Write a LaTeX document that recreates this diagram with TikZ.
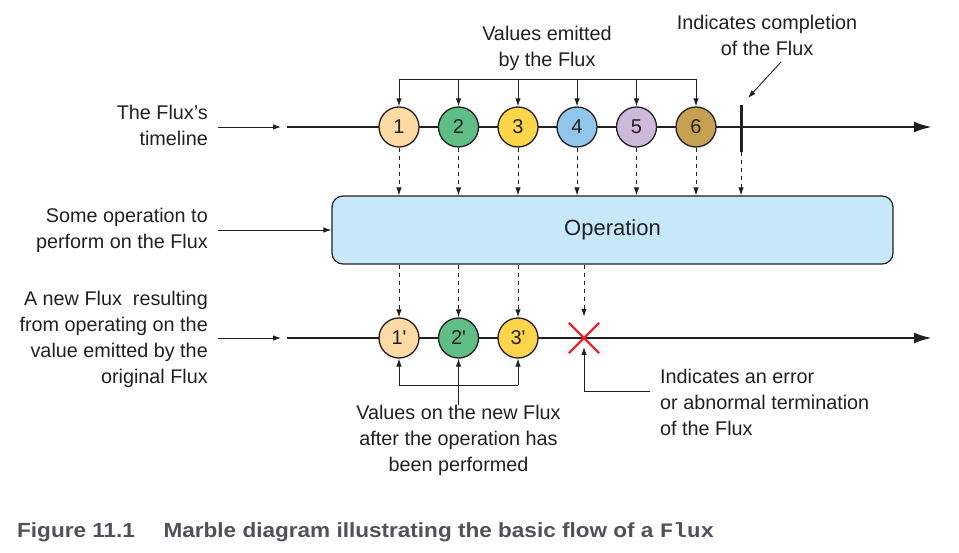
\documentclass[tikz,border=0pt]{standalone}
\usepackage{fontspec}
\usepackage{graphicx}
\setmainfont{Liberation Sans}
\setmonofont{Liberation Mono}
\newfontfamily\marblefont{Liberation Sans}[Ligatures=TeXOff]
\usetikzlibrary{arrows.meta}
\definecolor{ink}{RGB}{35,31,32}
\definecolor{m1}{HTML}{FDD9A3}
\definecolor{m2}{HTML}{5FBE85}
\definecolor{m3}{HTML}{FCD54A}
\definecolor{m4}{HTML}{92C5EA}
\definecolor{m5}{HTML}{CDB9DA}
\definecolor{m6}{HTML}{C7A152}
\definecolor{opfill}{HTML}{C6E8F8}
\definecolor{errred}{HTML}{E8262B}
\definecolor{capgray}{RGB}{80,81,90}
\begin{document}
\begin{tikzpicture}[x=1pt,y=-1pt,
  txt/.style={font=\fontsize{19.8}{26}\selectfont, inner sep=0pt, text=ink},
  marble/.style={circle, draw=ink, line width=1.3pt, minimum size=40pt, inner sep=0pt, text=ink, font=\marblefont\fontsize{20}{24}\selectfont},
  tline/.style={draw=ink, line width=2.6pt, -{Latex[length=18pt,width=11pt]}},
  sarrow/.style={draw=ink, line width=0.9pt, -{Latex[length=8pt,width=5.5pt]}},
  darrow/.style={sarrow, dash pattern=on 4pt off 4pt},
  thin/.style={draw=ink, line width=0.9pt},
  xline/.style={draw=errred, line width=2.4pt},
]
\useasboundingbox (0,0) rectangle (959,553);

% top timeline
\coordinate (tA) at (287,127);
\coordinate (tB) at (932,127);
\draw[tline] (tA) -- (tB);
\node[marble, fill=m1] (c1) at (399,127) {1};
\node[marble, fill=m2] (c2) at (458.5,127) {2};
\node[marble, fill=m3] (c3) at (518,127) {3};
\node[marble, fill=m4] (c4) at (577,127) {4};
\node[marble, fill=m5] (c5) at (636.5,127) {5};
\node[marble, fill=m6] (c6) at (696,127) {6};
\coordinate (barT) at (741,105);
\coordinate (barB) at (741,152);
\draw[draw=ink, line width=3pt] (barT) -- (barB);

% operation box
\node[draw=ink, line width=1.2pt, fill=opfill, rounded corners=11pt,
      minimum width=561pt, minimum height=68pt, text=ink,
      font=\fontsize{22}{26}\selectfont] (op) at (612.5,230) {Operation};

\foreach \i in {1,...,6} \draw[darrow] (c\i.south) -- (c\i.south |- op.north);
\draw[darrow] (barB) -- (barB |- op.north);

% bottom timeline
\coordinate (bA) at (287,338);
\coordinate (bB) at (932,338);
\draw[tline] (bA) -- (bB);
\node[marble, fill=m1] (d1) at (399,338) {1'};
\node[marble, fill=m2] (d2) at (458.5,338) {2'};
\node[marble, fill=m3] (d3) at (518,338) {3'};
\node[minimum size=30pt, inner sep=0pt] (err) at (584,338) {};
\draw[xline] (err.north west) -- (err.south east);
\draw[xline] (err.north east) -- (err.south west);

\foreach \i in {1,2,3} \draw[darrow] (op.south -| d\i) -- (d\i.north);
\draw[darrow] (op.south -| err) -- ([yshift=6pt]err.north);

% left labels
\node[txt, align=right, anchor=east] (t1) at (208,125.5) {The Flux's\\timeline};
\node[txt, align=right, anchor=east] (t2) at (208,230.5) {Some operation to\\perform on the Flux};
\node[txt, align=right, anchor=east] (t3) at (208,339.5) {A new Flux\ \ resulting\\from operating on the\\value emitted by the\\original Flux};
\draw[sarrow, shorten <=10pt] (t1.east |- tA) -- ([xshift=-6pt]tA);
\draw[sarrow, shorten <=10pt] (t2.east |- op.west) -- (op.west);
\draw[sarrow, shorten <=10pt] (t3.east |- bA) -- ([xshift=-6pt]bA);

% top bracket
\node[txt, align=center] (vt) at (547,48) {Values emitted\\by the Flux};
\coordinate (tb) at (547,79);
\draw[thin] (tb -| c1) -- (tb -| c6);
\foreach \i in {1,...,6} \draw[sarrow] (tb -| c\i) -- (c\i.north);

% completion label
\node[txt, align=center] (ct) at (767,35) {Indicates completion\\of the Flux};
\coordinate (cS) at (781,62);
\draw[sarrow] (cS) -- ([xshift=7pt,yshift=7pt]barT);

% bottom bracket
\node[txt, align=center] (vb) at (458.5,440) {Values on the new Flux\\after the operation has\\been performed};
\coordinate (bb) at (458.5,385);
\draw[thin] (bb -| d1) -- (bb -| d3);
\foreach \i in {1,2,3} \draw[sarrow] (bb -| d\i) -- (d\i.south);
\draw[thin] (vb.north) -- (bb);

% error label
\node[txt, align=left, anchor=west] (et) at (660,402) {Indicates an error\\or abnormal termination\\of the Flux};
\coordinate (eK) at (650,391);
\draw[sarrow] (eK) -| ([yshift=-9pt]err.center);

% caption
\node[anchor=base west, inner sep=0pt, text=capgray] (cap) at (17,537)
  {\fontsize{20.5}{24}\selectfont\bfseries\scalebox{1.1}[1]{Figure 11.1\hspace{26pt}Marble diagram illustrating the basic flow of a \texttt{Flux}}};
\end{tikzpicture}
\end{document}
